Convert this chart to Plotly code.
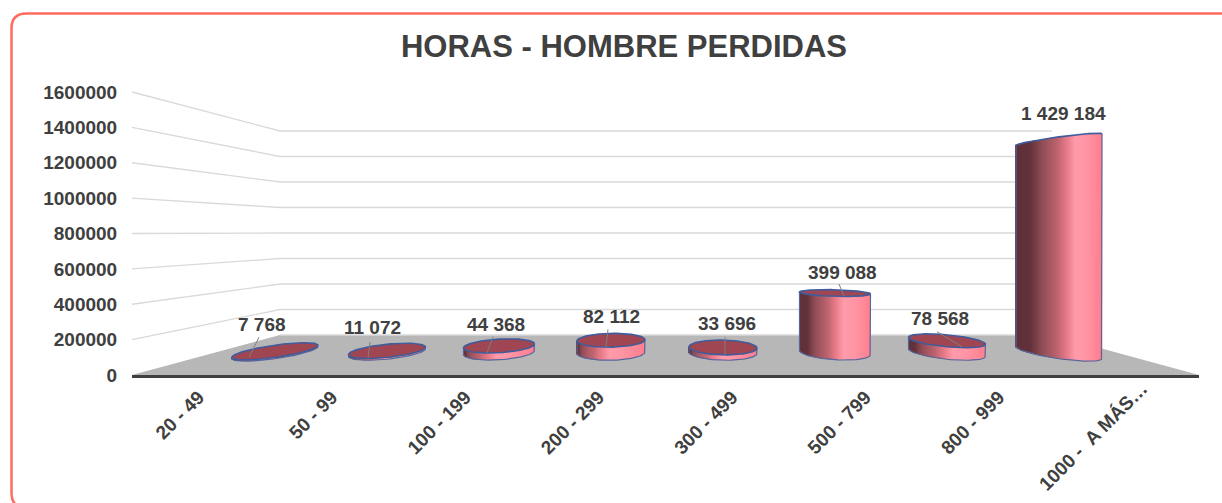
import math
import plotly.graph_objects as go

# ---------- data ----------
categories = ["20 - 49", "50 - 99", "100 - 199", "200 - 299", "300 - 499", "500 - 799", "800 - 999", "1000 - \u00a0A MÁS…"]
values = [7768, 11072, 44368, 82112, 33696, 399088, 78568, 1429184]
value_labels = ["7 768", "11 072", "44 368", "82 112", "33 696", "399 088", "78 568", "1 429 184"]
y_ticks = [0, 200000, 400000, 600000, 800000, 1000000, 1200000, 1400000, 1600000]
title_text = "HORAS - HOMBRE PERDIDAS"

# ---------- page geometry (pixels) ----------
W, H = 1222, 503
L, R, T, B = 132, 1199, 92, 375
BACK_L, BACK_R, BACK_TOP, BACK_BOTTOM = 280, 1052, 131, 335
paper_x = lambda px: (px - L) / (R - L)
paper_y = lambda py: (B - py) / (B - T)

# Bars stand half way into the floor, so they use their own, smaller scales.
PX_PER_CAT = 112.0
PX_PER_VAL = 0.149 / 1000
BASE_PX = 352.5
MID_CAT = 3.5
x2_range = [MID_CAT - (667 - L) / PX_PER_CAT, MID_CAT + (R - 667) / PX_PER_CAT]
y2_range = [-(B - BASE_PX) / PX_PER_VAL, (BASE_PX - T) / PX_PER_VAL]
HORIZON = 109.0

STOPS = [(0, "#5f3038"), (0.18, "#623139"), (0.3, "#8e4c55"), (0.48, "#bb626e"), (0.6, "#e97b89"),
         (0.7, "#ff9bab"), (0.82, "#ff95a5"), (1, "#ff7f8e")]
SHADE_POWER = [0.5, 0.5, 0.5, 0.5, 0.5, 0.8, 0.7, 1.0]
TOP_FILL = "#a04552"
EDGE = "#3f5c9c"


def mix(t):
    for (a, ca), (b, cb) in zip(STOPS, STOPS[1:]):
        if t <= b:
            f = (t - a) / (b - a)
            rgb = [round(int(ca[k:k + 2], 16) * (1 - f) + int(cb[k:k + 2], 16) * f) for k in (1, 3, 5)]
            return "#%02x%02x%02x" % tuple(rgb)
    return STOPS[-1][1]


def half_width(i):
    return (67.6 + 1.5 * (i - MID_CAT) ** 2) / 2


def to_val(v, px_down):
    """Value moved down the page by px_down pixels."""
    return v - px_down / PX_PER_VAL


fig = go.Figure()

# keeps the front (tick label) axes alive; the marks themselves use the mid-depth axes
fig.add_trace(go.Scatter(x=list(range(len(categories))), y=[0] * len(categories), mode="markers",
                         marker=dict(opacity=0), hoverinfo="skip", showlegend=False))

for i, v in enumerate(values):
    a = half_width(i)
    b0 = 8 - 0.5 * abs(i - MID_CAT)
    s0 = 0.14 * (i - MID_CAT) / MID_CAT
    h = v * PX_PER_VAL
    k = 1 - h / HORIZON
    s1 = s0 * k
    b1 = b0 * abs(k) * (1 if k > 0 else 0.45)
    n = int(a * 2)
    xs, tops, bases, cols, widths = [], [], [], [], []
    for j in range(n):
        t = -1 + (j + 0.5) * 2 / n
        rnd = math.sqrt(max(0, 1 - t * t))
        dx = t * a
        bot = to_val(0, s0 * dx + b0 * rnd)
        top = to_val(v, s1 * dx - (b1 * rnd if k < 0 else 0))
        xs.append(i + dx / PX_PER_CAT)
        bases.append(bot)
        tops.append(top - bot)
        cols.append(mix(((t + 1) / 2) ** SHADE_POWER[i]))
        widths.append(1.5 / PX_PER_CAT)
    fig.add_trace(go.Bar(x=xs, y=tops, base=bases, width=widths, xaxis="x2", yaxis="y2",
                         marker=dict(color=cols, line=dict(width=0)), hoverinfo="skip", showlegend=False))

    ang = [m * math.pi / 60 for m in range(121)]
    # silhouette edge
    arc = [x * math.pi / 40 for x in range(41)]
    ex = [i + a * math.cos(u) / PX_PER_CAT for u in arc]
    ey = [to_val(0, s0 * a * math.cos(u) + b0 * math.sin(u)) for u in arc]
    ex = [i + a / PX_PER_CAT] + ex + [i - a / PX_PER_CAT]
    ey = [to_val(v, s1 * a)] + ey + [to_val(v, -s1 * a)]
    fig.add_trace(go.Scatter(x=ex, y=ey, mode="lines", xaxis="x2", yaxis="y2", hoverinfo="skip",
                             showlegend=False, line=dict(color="#55689c", width=1.2)))
    if k > 0:
        ex = [i + a * math.cos(u) / PX_PER_CAT for u in ang]
        ey = [to_val(v, s1 * a * math.cos(u) + b1 * math.sin(u)) for u in ang]
        fig.add_trace(go.Scatter(x=ex, y=ey, mode="lines", fill="toself", fillcolor=TOP_FILL, xaxis="x2", yaxis="y2",
                                 hoverinfo="skip", showlegend=False, line=dict(color=EDGE, width=1.6)))
    else:
        arc2 = [x * math.pi / 40 for x in range(41)]
        ex = [i + a * math.cos(u) / PX_PER_CAT for u in arc2]
        ey = [to_val(v, s1 * a * math.cos(u) - b1 * math.sin(u)) for u in arc2]
        fig.add_trace(go.Scatter(x=ex, y=ey, mode="lines", xaxis="x2", yaxis="y2", hoverinfo="skip",
                                 showlegend=False, line=dict(color=EDGE, width=1.6)))

# ---------- leader lines and value labels (offsets from each bar's top, pixels) ----------
leader_from = [(-16, -14), (-17, -9), (-6, -9), (-3, -11), (2, -10), (4, -9), (-10, -9), None]
leader_to = [(-26, 6), (-19, 7), (-12, 7), (-5, 7), (2, 8), (9, 3), (15, 6), None]
label_shift = [(-13, 27), (-15, 23), (-3, 21), (0, 24), (4, 24), (7, 21), (-7, 22), (4, 26)]
for i, v in enumerate(values):
    if leader_from[i]:
        fx, fy = leader_from[i]
        tx, ty = leader_to[i]
        fig.add_trace(go.Scatter(x=[i + fx / PX_PER_CAT, i + tx / PX_PER_CAT],
                                 y=[to_val(v, fy), to_val(v, ty)],
                                 mode="lines", xaxis="x2", yaxis="y2", hoverinfo="skip", showlegend=False,
                                 line=dict(color="#7f7f7f", width=1)))
    fig.add_annotation(x=i, y=v, xref="x2", yref="y2", text=value_labels[i], showarrow=False,
                       xshift=label_shift[i][0], yshift=label_shift[i][1],
                       font=dict(family="Liberation Sans", size=19, color="#404040", weight="bold"))

# ---------- floor, walls, frame ----------
shapes = []
shapes.append(dict(type="path", xref="paper", yref="paper", layer="below", line=dict(width=0), fillcolor="#b7b7b7",
                   path="M %f %f L %f %f L %f %f L %f %f Z" % (
                       paper_x(L), paper_y(B), paper_x(BACK_L), paper_y(BACK_BOTTOM),
                       paper_x(BACK_R), paper_y(BACK_BOTTOM), paper_x(R), paper_y(B))))
for v in y_ticks[1:]:
    f = v / y_ticks[-1]
    fy = B + (T - B) * f
    by = BACK_BOTTOM + (BACK_TOP - BACK_BOTTOM) * f
    shapes.append(dict(type="line", xref="paper", yref="paper", layer="below",
                       x0=paper_x(L), y0=paper_y(fy), x1=paper_x(BACK_L), y1=paper_y(by),
                       line=dict(color="#d9d9d9", width=1.3)))
    shapes.append(dict(type="line", xref="paper", yref="paper", layer="below",
                       x0=paper_x(BACK_L), y0=paper_y(by), x1=paper_x(BACK_R), y1=paper_y(by),
                       line=dict(color="#d9d9d9", width=1.5)))
shapes.append(dict(type="line", xref="paper", yref="paper", layer="below",
                   x0=paper_x(BACK_L), y0=paper_y(BACK_BOTTOM), x1=paper_x(BACK_R), y1=paper_y(BACK_BOTTOM),
                   line=dict(color="#d9d9d9", width=1.5)))
# rounded frame (runs off the right and bottom of the page)
fl, ft, fr, fb, rad = 11.5, 13.5, 1237, 508, 15
shapes.append(dict(type="path", xref="paper", yref="paper", layer="below", line=dict(color="#ff6b61", width=2.5),
                   path="M %f %f L %f %f Q %f %f %f %f L %f %f Q %f %f %f %f L %f %f Q %f %f %f %f L %f %f Q %f %f %f %f Z" % (
                       paper_x(fl + rad), paper_y(ft), paper_x(fr - rad), paper_y(ft),
                       paper_x(fr), paper_y(ft), paper_x(fr), paper_y(ft + rad),
                       paper_x(fr), paper_y(fb - rad), paper_x(fr), paper_y(fb), paper_x(fr - rad), paper_y(fb),
                       paper_x(fl + rad), paper_y(fb), paper_x(fl), paper_y(fb), paper_x(fl), paper_y(fb - rad),
                       paper_x(fl), paper_y(ft + rad), paper_x(fl), paper_y(ft), paper_x(fl + rad), paper_y(ft))))

tick_font = dict(family="Liberation Sans", size=19, color="#404040", weight="bold")

# The longest category label sits higher than a tick label could, so it is placed by hand.
fig.add_annotation(x=len(categories) - 1, y=0, xref="x", yref="y", text=categories[-1], showarrow=False,
                   textangle=-45, xshift=-39.5, yshift=-61, font=tick_font)

fig.update_layout(
    width=W, height=H, autosize=False, margin=dict(l=L, r=W - R, t=T, b=H - B, pad=0),
    paper_bgcolor="white", plot_bgcolor="rgba(0,0,0,0)", barmode="overlay", showlegend=False, shapes=shapes,
    title=dict(text=title_text, x=624 / W, xanchor="center", y=1 - 46 / H, yanchor="middle",
               font=dict(family="Liberation Sans", size=31, color="#404040", weight="bold")),
    xaxis=dict(tickmode="array", tickvals=list(range(7)), ticktext=categories[:-1], range=[-0.5, 7.5], tickangle=-45,
               tickfont=tick_font, showgrid=False, zeroline=False, showline=True, linecolor="#404040", linewidth=2.5,
               ticks="outside", ticklen=1, tickcolor="rgba(0,0,0,0)", fixedrange=True, automargin=False),
    yaxis=dict(tickmode="array", tickvals=y_ticks, ticktext=[str(v) for v in y_ticks], range=[0, y_ticks[-1]],
               tickfont=tick_font, showgrid=False, zeroline=False, showline=False,
               ticks="outside", ticklen=10, tickcolor="rgba(0,0,0,0)", fixedrange=True, automargin=False),
    xaxis2=dict(overlaying="x", anchor="y2", range=x2_range, visible=False, fixedrange=True),
    yaxis2=dict(overlaying="y", anchor="x2", range=y2_range, visible=False, fixedrange=True),
)
fig.write_html("out.html", config=dict(displayModeBar=False), post_script="document.body.style.margin='0';")
